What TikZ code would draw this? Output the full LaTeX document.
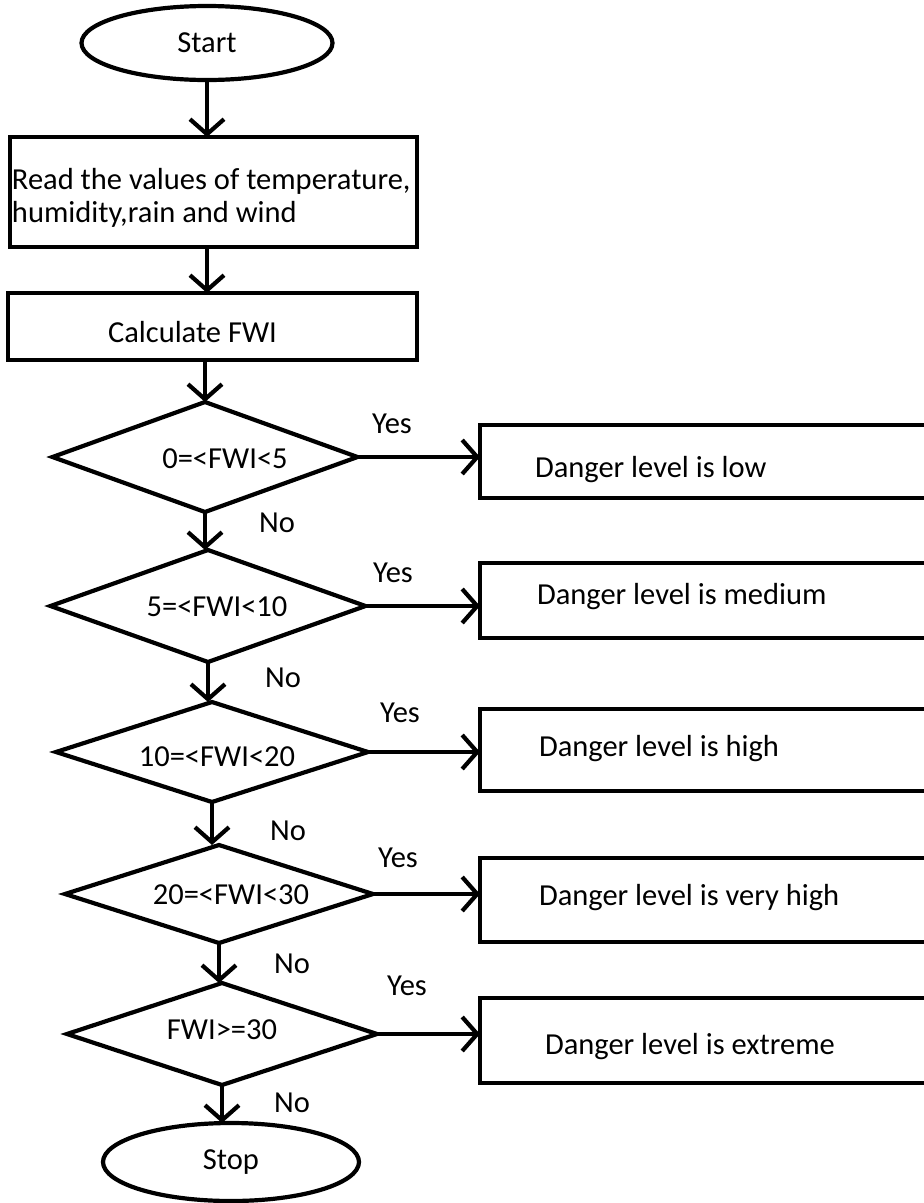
\documentclass[tikz,border=0pt]{standalone}
\usepackage{fontspec}
\setmainfont{Carlito}
\usetikzlibrary{shapes.geometric,arrows.meta}
\begin{document}
\begin{tikzpicture}[x=1pt,y=-1pt,
  every node/.style={font=\fontsize{30.5}{33}\selectfont, inner sep=0pt, outer sep=0pt},
  arr/.style={line width=4.2pt, -{Straight Barb[length=15pt,width=34pt]}},
  term/.style={ellipse, draw, line width=4.2pt},
  proc/.style={rectangle, draw, line width=4.2pt},
  dec/.style={diamond, draw, line width=4.2pt},
  txt/.style={anchor=west}]
\clip (0,0) rectangle (924,1203);
\fill[white] (0,0) rectangle (924,1203);
% main column
\node[term, minimum width=251pt, minimum height=74pt] (start) at (207,43) {Start};
\node[proc, minimum width=407pt, minimum height=110pt] (read) at (213.5,192) {};
\node[txt, align=left] (readt) at (12,198) {Read the values of temperature,\\humidity,rain and wind};
\node[proc, minimum width=409pt, minimum height=67pt] (calc) at (212.5,326.5) {};
\node[txt] (calct) at (108,332) {Calculate FWI};
% decisions
\node[dec, minimum width=305pt, minimum height=110pt] (d1) at (205,457) {};
\node (d1t) at (225,459) {0=<FWI<5};
\node[dec, minimum width=315pt, minimum height=112pt] (d2) at (208,606) {};
\node (d2t) at (217,607) {5=<FWI<10};
\node[dec, minimum width=312pt, minimum height=100pt] (d3) at (212,752) {};
\node (d3t) at (217,757) {10=<FWI<20};
\node[dec, minimum width=308pt, minimum height=98pt] (d4) at (219,894) {};
\node (d4t) at (231,895) {20=<FWI<30};
\node[dec, minimum width=310pt, minimum height=102pt] (d5) at (222,1034) {};
\node (d5t) at (222,1030) {FWI>=30};
\node[term, minimum width=256pt, minimum height=78pt] (stop) at (231,1162) {Stop};
% result boxes
\node[proc, minimum width=480pt, minimum height=73pt] (b1) at (720,461.5) {};
\node[txt] (b1t) at (535,470) {Danger level is low};
\node[proc, minimum width=480pt, minimum height=75pt] (b2) at (720,600.5) {};
\node[txt] (b2t) at (537,597) {Danger level is medium};
\node[proc, minimum width=480pt, minimum height=82pt] (b3) at (720,750) {};
\node[txt] (b3t) at (539,749) {Danger level is high};
\node[proc, minimum width=480pt, minimum height=84pt] (b4) at (720,900) {};
\node[txt] (b4t) at (539,898) {Danger level is very high};
\node[proc, minimum width=480pt, minimum height=85pt] (b5) at (720,1040.5) {};
\node[txt] (b5t) at (545,1047) {Danger level is extreme};
% labels
\node (y1) at (392,424) {Yes};
\node (n1) at (277,523) {No};
\node (y2) at (393,573) {Yes};
\node (n2) at (283,678) {No};
\node (y3) at (400,713) {Yes};
\node (n3) at (288,831) {No};
\node (y4) at (398,858) {Yes};
\node (n4) at (292,964) {No};
\node (y5) at (407,986) {Yes};
\node (n5) at (292,1103) {No};
% connectors
\draw[arr] (start.south) -- (start.south |- read.north);
\draw[arr] (read.south -| start.south) -- (start.south |- calc.north);
\draw[arr] (calc.south -| d1.north) -- (d1.north);
\draw[arr] (d1.south) -- (d1.south |- d2.north);
\draw[arr] (d2.south) -- (d2.south |- d3.north);
\draw[arr] (d3.south) -- (d3.south |- d4.north);
\draw[arr] (d4.south) -- (d4.south |- d5.north);
\draw[arr] (d5.south) -- (d5.south |- stop.north);
\draw[arr] (d1.east) -- (d1.east -| b1.west);
\draw[arr] (d2.east) -- (d2.east -| b2.west);
\draw[arr] (d3.east) -- (d3.east -| b3.west);
\draw[arr] (d4.east) -- (d4.east -| b4.west);
\draw[arr] (d5.east) -- (d5.east -| b5.west);
\end{tikzpicture}
\end{document}
